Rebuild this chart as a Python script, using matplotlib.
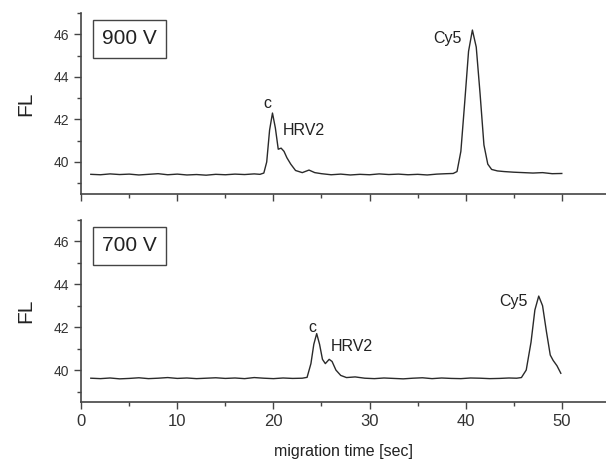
import matplotlib.pyplot as plt
from matplotlib.ticker import MultipleLocator

plt.rcParams['font.family'] = ['Liberation Sans', 'DejaVu Sans']

# trace: 900 V run
t_900 = [1, 2, 3, 4, 5, 6, 7, 8, 9, 10, 11, 12, 13, 14, 15, 16, 17, 18, 18.6,
         19.0, 19.3, 19.6, 19.9, 20.2, 20.5, 20.8, 21.1, 21.4, 21.8, 22.3, 23.0,
         23.7, 24.3, 25, 26, 27, 28, 29, 30, 31, 32, 33, 34, 35, 36, 37, 38,
         38.7, 39.1, 39.5, 39.9, 40.3, 40.7, 41.1, 41.5, 41.9, 42.3, 42.7, 43.3,
         44, 45, 46, 47, 48, 49, 50]
fl_900 = [39.42, 39.40, 39.44, 39.41, 39.43, 39.39, 39.42, 39.45, 39.40, 39.43,
          39.39, 39.41, 39.38, 39.42, 39.40, 39.43, 39.41, 39.44, 39.42,
          39.48, 40.0, 41.5, 42.3, 41.6, 40.6, 40.65, 40.5, 40.2, 39.9, 39.6, 39.5,
          39.62, 39.5, 39.45, 39.40, 39.43, 39.39, 39.42, 39.40, 39.44, 39.41, 39.43,
          39.40, 39.42, 39.39, 39.43, 39.45,
          39.46, 39.55, 40.5, 42.8, 45.2, 46.2, 45.4, 43.2, 40.8, 39.9, 39.65, 39.58,
          39.55, 39.52, 39.5, 39.48, 39.5, 39.45, 39.46]

# trace: 700 V run
t_700 = [1, 2, 3, 4, 5, 6, 7, 8, 9, 10, 11, 12, 13, 14, 15, 16, 17, 18, 19, 20,
         21, 22, 23, 23.5, 23.9, 24.2, 24.5, 24.8, 25.1, 25.4, 25.8, 26.1, 26.5,
         27.0, 27.6, 28.5, 29.5, 30.5, 31.5, 32.5, 33.5, 34.5, 35.5, 36.5, 37.5,
         38.5, 39.5, 40.5, 41.5, 42.5, 43.5, 44.5, 45.3, 45.8, 46.3, 46.8, 47.2,
         47.6, 48.0, 48.4, 48.8, 49.1, 49.5, 49.9]
fl_700 = [39.62, 39.60, 39.63, 39.59, 39.61, 39.64, 39.60, 39.62, 39.65, 39.61,
          39.63, 39.60, 39.62, 39.64, 39.61, 39.63, 39.60, 39.65, 39.62, 39.60,
          39.63, 39.61, 39.62, 39.66, 40.3, 41.2, 41.7, 41.2, 40.5, 40.3, 40.5,
          40.4, 40.0, 39.75, 39.65, 39.68, 39.62, 39.60, 39.63, 39.61, 39.59,
          39.62, 39.64, 39.60, 39.63, 39.61, 39.60, 39.63, 39.62, 39.60, 39.61,
          39.63, 39.62, 39.65, 40.0, 41.3, 42.8, 43.45, 43.0, 41.8, 40.7, 40.45,
          40.2, 39.85]

panels = [
    ("900 V", t_900, fl_900, [("c", 19.0, 42.75), ("HRV2", 21.0, 41.5), ("Cy5", 36.6, 45.8)]),
    ("700 V", t_700, fl_700, [("c", 23.6, 42.0), ("HRV2", 26.0, 41.1), ("Cy5", 43.5, 43.2)]),
]

fig = plt.figure(figsize=(6.06, 4.65), dpi=100)
ax_top = fig.add_axes([0.134, 0.583, 0.866, 0.389])
ax_bot = fig.add_axes([0.134, 0.135, 0.866, 0.392], sharex=ax_top)

for ax, (volt, t, fl, notes) in zip([ax_top, ax_bot], panels):
    ax.plot(t, fl, color='#2a2a2a', lw=1.0)
    ax.set_xlim(0, 54.6)
    ax.set_ylim(38.5, 47)
    ax.spines['top'].set_visible(False)
    ax.spines['right'].set_visible(False)
    for side in ['left', 'bottom']:
        ax.spines[side].set_color('#444444')
        ax.spines[side].set_linewidth(1.2)
    ax.yaxis.set_major_locator(MultipleLocator(2))
    ax.yaxis.set_minor_locator(MultipleLocator(1))
    ax.xaxis.set_major_locator(MultipleLocator(10))
    ax.xaxis.set_minor_locator(MultipleLocator(5))
    ax.tick_params(which='major', length=5, width=1, color='#444444', labelsize=10, labelcolor='#333333')
    ax.tick_params(which='minor', length=3, width=1, color='#444444')
    ax.set_ylabel("FL", fontsize=15, color='#222222', labelpad=13)
    ax.text(0.04, 0.91, volt, transform=ax.transAxes, fontsize=15, va='top', ha='left',
            color='#222222', bbox=dict(boxstyle='square,pad=0.45', fc='white', ec='#444444', lw=1))
    for label, x, y in notes:
        ax.text(x, y, label, fontsize=11.5, color='#222222', va='center', ha='left')

plt.setp(ax_top.get_xticklabels(), visible=False)
ax_bot.tick_params(axis='x', labelsize=12)
ax_bot.set_xlabel("migration time [sec]", fontsize=11.5, color='#222222', labelpad=11)

fig.savefig("out.png", dpi=100)
